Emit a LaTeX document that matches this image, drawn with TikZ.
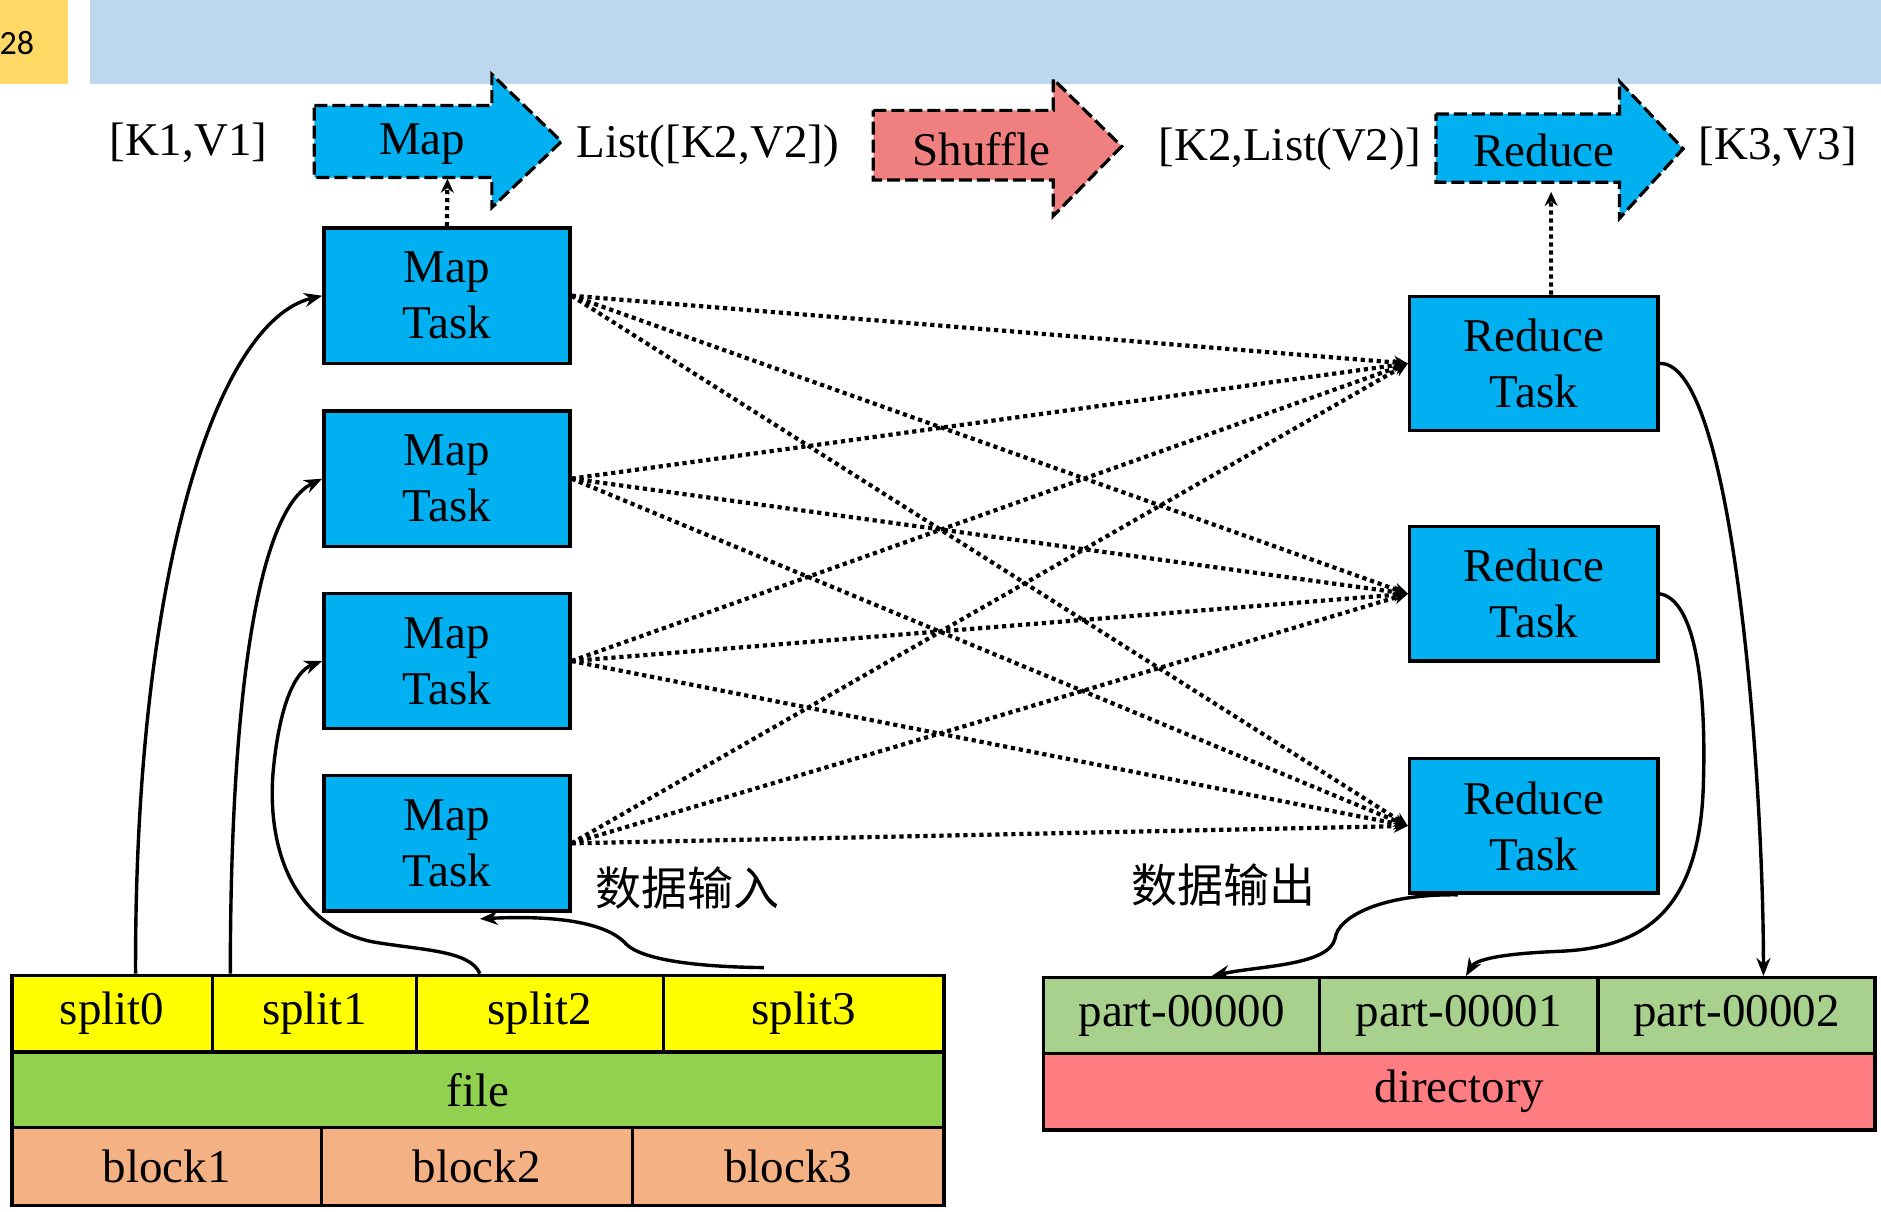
\documentclass[tikz,border=0pt]{standalone}
\usepackage{fontspec}
\setmainfont{Liberation Serif}
\newfontfamily\cjkfont{Noto Sans CJK SC}
\newfontfamily\pagefont{Carlito}
\usetikzlibrary{arrows.meta,positioning,calc}
\definecolor{taskblue}{HTML}{00B0F0}
\definecolor{shufred}{HTML}{F08080}
\definecolor{splityel}{HTML}{FFFF00}
\definecolor{filegreen}{HTML}{92D050}
\definecolor{blockorg}{HTML}{F4B183}
\definecolor{partgreen}{HTML}{A9D18E}
\definecolor{dirred}{HTML}{FF7C80}
\definecolor{barblue}{HTML}{BDD7EE}
\definecolor{baryel}{HTML}{FFD966}
\newcommand{\px}{0.6pt}
\tikzset{task/.style={draw,line width=1.7pt,fill=taskblue,align=center,minimum width=205*\px,minimum height=113*\px,inner sep=0pt},
  cell/.style={draw,line width=1.7pt,inner sep=0pt,minimum height=64*\px},
  flowline/.style={draw,line width=1.6pt,dash pattern=on 6.5pt off 2.5pt,line join=miter},
  dotarr/.style={line width=2.1pt,dash pattern=on 2.1pt off 1.9pt,-{Stealth[length=7pt,width=6.5pt]}},
  arr/.style={line width=1.7pt,-{Stealth[length=9pt,width=7pt]}}}

\begin{document}
\begin{tikzpicture}[x=\px,y=-\px,font=\fontsize{23.5}{28}\selectfont]
\useasboundingbox (0,0) rectangle (1568,1010);
% header bar
\fill[baryel] (0,0) rectangle (57,70);
\fill[barblue] (75,0) rectangle (1568,70);
\node[font=\pagefont\fontsize{17}{20}\selectfont] (pg) at (14,36) {28};
% key/value flow
\node (kv1) at (157,119) {[K1,V1]};
\path[flowline,fill=taskblue] (262,88) -- (410,88) -- (410,62) -- (468,118) -- (410,173) -- (410,148) -- (262,148) -- cycle;
\node (map) at (352,120) {Map};
\node (kv2) at (590,122) {List([K2,V2])};
\path[flowline,fill=shufred] (728,92) -- (878,92) -- (878,66) -- (935,122) -- (878,180) -- (878,150) -- (728,150) -- cycle;
\node (shuf) at (818,124) {Shuffle};
\node (kv3) at (1075,124) {[K2,List(V2)]};
\path[flowline,fill=taskblue] (1197,95) -- (1350,95) -- (1350,68) -- (1403,124) -- (1350,182) -- (1350,152) -- (1197,152) -- cycle;
\node (red) at (1287,125) {Reduce};
\node (kv4) at (1482,122) {[K3,V3]};
\coordinate (mapin) at (373,149);
\coordinate (redin) at (1293,160);
% tasks
\node[task] (mt1) at (372.5,246.5) {Map\\Task};
\node[task] (mt2) at (372.5,399) {Map\\Task};
\node[task] (mt3) at (372.5,551) {Map\\Task};
\node[task] (mt4) at (372.5,703) {Map\\Task};
\node[task,minimum width=207*\px,minimum height=112*\px] (rt1) at (1278.5,303) {Reduce\\Task};
\node[task,minimum width=207*\px,minimum height=112*\px] (rt2) at (1278.5,495) {Reduce\\Task};
\node[task,minimum width=207*\px,minimum height=112*\px] (rt3) at (1278.5,688.5) {Reduce\\Task};
\draw[dotarr] (mt1.north) -- (mapin);
\draw[dotarr] ([xshift=8.7pt]rt1.north) -- (redin);
\foreach \m in {1,...,4}
  \foreach \r in {1,2,3}
    \draw[dotarr] (mt\m.east) -- (rt\r.west);
\node[font=\cjkfont\fontsize{23}{28}\selectfont] (din) at (573,740) {数据输入};
\node[font=\cjkfont\fontsize{23}{28}\selectfont] (dout) at (1020,738) {数据输出};
% input file
\node[cell,fill=splityel,minimum width=167*\px] (s0) at (93.5,845) {split0};
\node[cell,fill=splityel,minimum width=170*\px] (s1) at (262,845) {split1};
\node[cell,fill=splityel,minimum width=206*\px] (s2) at (450,845) {split2};
\node[cell,fill=splityel,minimum width=234*\px] (s3) at (670,845) {split3};
\node[cell,fill=filegreen,minimum width=777*\px,minimum height=63*\px] (file) at (398.5,908.5) {file};
\node[cell,fill=blockorg,minimum width=258*\px,minimum height=65*\px] (b1) at (139,972.5) {block1};
\node[cell,fill=blockorg,minimum width=259*\px,minimum height=65*\px] (b2) at (397.5,972.5) {block2};
\node[cell,fill=blockorg,minimum width=260*\px,minimum height=65*\px] (b3) at (657,972.5) {block3};
% output directory
\node[cell,fill=partgreen,minimum width=230*\px,minimum height=63*\px] (p0) at (985,846.5) {part-00000};
\node[cell,fill=partgreen,minimum width=232*\px,minimum height=63*\px] (p1) at (1216,846.5) {part-00001};
\node[cell,fill=partgreen,minimum width=231*\px,minimum height=63*\px] (p2) at (1447.5,846.5) {part-00002};
\node[cell,fill=dirred,minimum width=693*\px] (dir) at (1216.5,910) {directory};
% splits to map tasks
\draw[arr] ([xshift=11.7pt]s0.north) .. controls (112,480) and (180,268) .. (mt1.west);
\draw[arr] ([xshift=-42pt]s1.north) .. controls (192,580) and (215,425) .. (mt2.west);
\draw[arr] ([xshift=-30pt]s2.north) .. controls (392,792) and (350,792) .. (310,785)
  .. controls (240,770) and (222,700) .. (228,640) .. controls (233,590) and (245,560) .. (mt3.west);
\draw[arr] ([xshift=-20pt,yshift=3pt]s3.north) .. controls (580,806) and (535,800) .. (522,787)
  .. controls (505,768) and (460,763) .. ([xshift=16.5pt,yshift=-3pt]mt4.south);
% reduce tasks to parts
\draw[arr] (rt1.east) .. controls (1445,300) and (1470,650) .. ([xshift=13.5pt]p2.north);
\draw[arr] (rt2.east) .. controls (1415,500) and (1422,580) .. (1420,650)
  .. controls (1418,760) and (1370,790) .. (1300,793) .. controls (1250,795) and (1230,800) .. ([xshift=3.6pt]p1.north);
\draw[arr] ([xshift=-38pt]rt3.south) .. controls (1150,745) and (1115,765) .. (1113,782)
  .. controls (1108,805) and (1050,805) .. ([xshift=15pt]p0.north);
\end{tikzpicture}
\end{document}
